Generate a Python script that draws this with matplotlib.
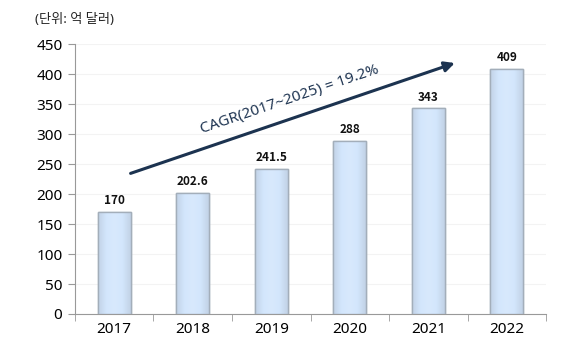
import matplotlib
matplotlib.use("Agg")
import matplotlib.pyplot as plt
import numpy as np
from matplotlib.colors import LinearSegmentedColormap

years = ["2017", "2018", "2019", "2020", "2021", "2022"]
values = [170, 202.6, 241.5, 288, 343, 409]
value_labels = ["170", "202.6", "241.5", "288", "343", "409"]
yticks = [0, 50, 100, 150, 200, 250, 300, 350, 400, 450]
unit_label = "(단위: 억 달러)"
cagr_label = "CAGR(2017~2025) = 19.2%"

plt.rcParams['font.family'] = ['Noto Sans', 'Noto Sans CJK KR', 'DejaVu Sans']

fig = plt.figure(figsize=(5.72, 3.56), dpi=100)
ax = fig.add_axes([0.131, 0.118, 0.824, 0.758])

x = np.arange(len(years))
bars = ax.bar(x, values, width=0.42, color="#d5e7fc", edgecolor="#a3aeba", linewidth=1.0, zorder=3)

cmap = LinearSegmentedColormap.from_list("bev", ["#c2d2e6", "#d3e6fc", "#d8e9fd", "#d3e6fc", "#c2d2e6"])
grad = np.linspace(0, 1, 64).reshape(1, -1)
for b in bars:
    x0, y0 = b.get_x(), b.get_y()
    w, h = b.get_width(), b.get_height()
    im = ax.imshow(grad, cmap=cmap, extent=(x0, x0 + w, y0, y0 + h), aspect="auto", zorder=3.5,
                   interpolation="bilinear")
    im.set_clip_path(b)
    ax.bar(b.get_x() + w / 2, h, width=w, facecolor="none", edgecolor="#a3aeba", linewidth=1.0, zorder=4)

for xi, v, lab in zip(x, values, value_labels):
    ax.text(xi, v + 8, lab, ha="center", va="bottom", fontsize=8.5, fontweight="bold", color="#111111",
            zorder=5, family=['Noto Sans CJK KR', 'DejaVu Sans'])

ax.set_xlim(-0.5, 5.5)
ax.set_ylim(0, 450)
ax.set_yticks(yticks)
ax.set_yticklabels([str(t) for t in yticks], fontsize=11)
ax.set_xticks(x)
ax.set_xticklabels(years, fontsize=11)
ax.set_xticks(np.arange(-0.5, 6.0, 1.0), minor=True)
ax.tick_params(axis="x", which="major", length=0, pad=6)
ax.tick_params(axis="x", which="minor", length=5, color="#999999", direction="out")
ax.tick_params(axis="y", length=5, color="#999999", pad=4)

for s in ["top", "right"]:
    ax.spines[s].set_visible(False)
ax.spines["left"].set_color("#999999")
ax.spines["bottom"].set_color("#999999")

ax.yaxis.grid(True, color="#f3f3f3", linewidth=0.8, zorder=0)
ax.set_axisbelow(True)

ax.annotate("", xy=(4.37, 420), xytext=(0.175, 233),
            arrowprops=dict(arrowstyle="-|>,head_length=0.6,head_width=0.3", color="#1c3350", lw=2.2), zorder=5)
ax.text(2.24, 357, cagr_label, rotation=18.8, ha="center", va="center", fontsize=11, color="#1f3552",
        rotation_mode="anchor")

fig.text(0.061, 0.946, unit_label, fontsize=9.5, color="#222222", ha="left", va="center")

fig.savefig("out.png", dpi=100)
